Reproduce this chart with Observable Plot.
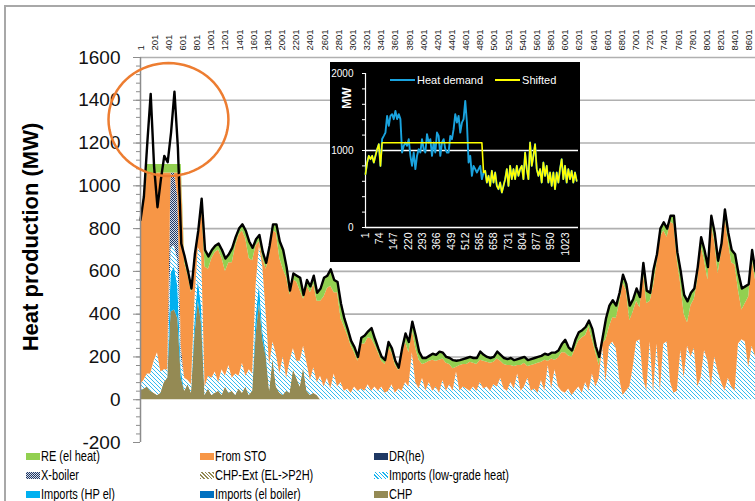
<!DOCTYPE html>
<html>
<head>
<meta charset="utf-8">
<script src="https://cdn.jsdelivr.net/npm/d3@7"></script>
<script src="https://cdn.jsdelivr.net/npm/@observablehq/plot@0.6"></script>
<style>
  body { margin: 0; background: #fff; font-family: "Liberation Sans", Arial, sans-serif; }
  #wrap { position: relative; width: 755px; height: 501px; overflow: hidden; background: #fff; }
  #border { position: absolute; left: 4px; top: 5px; width: 900px; height: 700px;
            border-left: 2px solid #a8a8a8; border-top: 2px solid #a8a8a8; pointer-events: none; }
  #main { position: absolute; left: 0; top: 0; }
  #inset { position: absolute; left: 330px; top: 62px; }
  #ylabel { position: absolute; left: 31px; top: 237px; transform: translate(-50%, -50%) rotate(-90deg);
            font-weight: bold; font-size: 22px; white-space: nowrap; color: #000; }
  #mw { position: absolute; left: 347px; top: 98px; transform: translate(-50%, -50%) rotate(-90deg);
        font-weight: bold; font-size: 12px; color: #fff; }
  #insetLegend { position: absolute; left: 390px; top: 74px; display: flex; align-items: center;
                 color: #fff; font-size: 11px; white-space: nowrap; }
  #insetLegend .ln { display: inline-block; width: 25px; height: 2px; margin-right: 2px; }
  #insetLegend .item { display: flex; align-items: center; margin-right: 12px; }
  .leg { position: absolute; display: flex; align-items: center; white-space: nowrap;
         font-size: 14.5px; color: #000; }
  .leg .sw { display: inline-block; width: 14px; height: 7px; margin-right: 1px; flex: none; }
  .leg .tx { display: inline-block; transform: scaleX(0.76); transform-origin: 0 50%; }
</style>
</head>
<body>
<svg width="0" height="0" style="position:absolute">
  <defs>
    <pattern id="hatchLow" patternUnits="userSpaceOnUse" width="4" height="4">
      <rect width="4" height="4" fill="#ffffff"/>
      <path d="M0,0 L4,4 M-1,3 L1,5 M3,-1 L5,1" stroke="#1CB4EE" stroke-width="0.9"/>
    </pattern>
    <pattern id="checkX" patternUnits="userSpaceOnUse" width="2" height="2">
      <rect width="2" height="2" fill="#d5dbe8"/>
      <rect width="1" height="1" fill="#1F3864"/>
      <rect x="1" y="1" width="1" height="1" fill="#1F3864"/>
    </pattern>
  </defs>
</svg>
<div id="wrap">
  <div id="main"></div>
  <div id="ylabel">Heat production (MW)</div>
  <div id="inset"></div>
  <div id="mw">MW</div>
  <div id="insetLegend"></div>
  <div id="legend"></div>
  <div id="border"></div>
</div>
<script>
// Hourly heat production over the year, sampled every 48 hours (MW)
const stepHours = 48;

const demand = [
  840,950,1200,1430,1090,900,1030,1140,1110,1250,
  1440,1180,730,670,600,520,680,790,940,700,
  670,700,720,730,700,660,680,710,760,800,
  820,790,740,710,750,770,690,640,720,820,
  820,740,700,620,510,590,580,570,490,560,
  530,580,500,520,570,580,610,560,550,450,
  380,330,275,245,200,290,300,320,335,285,
  240,200,185,270,240,182,150,240,310,270,
  365,300,225,195,195,205,215,210,225,220,
  200,195,185,182,185,190,195,200,195,195,
  225,210,200,195,200,225,210,195,190,195,
  185,190,195,200,185,190,195,200,205,215,
  210,220,220,230,260,280,245,230,280,315,
  325,340,370,330,250,200,290,380,440,465,
  440,500,585,540,440,470,520,480,640,510,
  500,610,680,800,830,800,860,860,690,600,
  490,460,500,520,620,760,700,620,860,780,
  650,730,890,780,700,680,590,520,530,540,
  700,600
];

const chp = [
  40,50,60,40,30,20,30,80,100,410,
  420,380,100,40,70,30,300,460,350,20,
  50,20,30,40,20,60,30,40,20,50,
  30,60,20,40,300,450,280,200,40,190,
  60,30,20,40,30,140,100,60,150,40,
  20,30,20,0,0,0,0,0,0,0,
  0,0,0,0,0,0,0,0,0,0,
  0,0,0,0,0,0,0,0,0,0,
  0,0,0,0,0,0,0,0,0,0,
  0,0,0,0,0,0,0,0,0,0,
  0,0,0,0,0,0,0,0,0,0,
  0,0,0,0,0,0,0,0,0,0,
  0,0,0,0,0,0,0,0,0,0,
  0,0,0,0,0,0,0,0,0,0,
  0,0,0,0,0,0,0,0,0,0,
  0,0,0,0,0,0,0,0,0,0,
  0,0,0,0,0,0,0,0,0,0,
  0,0,0,0,0,0,0,0,0,0,
  0,0
];

const importsHP = [
  0,0,0,0,0,0,0,0,0,180,
  200,150,40,0,0,0,60,100,80,0,
  0,0,0,0,0,0,0,0,0,0,
  0,0,0,0,80,90,40,20,0,0,
  0,0,0,0,0,0,0,0,0,0,
  0,0,0,0,0,0,0,0,0,0,
  0,0,0,0,0,0,0,0,0,0,
  0,0,0,0,0,0,0,0,0,0,
  0,0,0,0,0,0,0,0,0,0,
  0,0,0,0,0,0,0,0,0,0,
  0,0,0,0,0,0,0,0,0,0,
  0,0,0,0,0,0,0,0,0,0,
  0,0,0,0,0,0,0,0,0,0,
  0,0,0,0,0,0,0,0,0,0,
  0,0,0,0,0,0,0,0,0,0,
  0,0,0,0,0,0,0,0,0,0,
  0,0,0,0,0,0,0,0,0,0,
  0,0,0,0,0,0,0,0,0,0,
  0,0
];

const importsLow = [
  30,40,60,80,150,200,100,60,40,120,
  100,120,60,60,20,40,100,150,250,40,
  60,80,100,40,120,50,130,60,100,60,
  140,50,120,80,150,180,300,180,120,80,
  150,90,180,60,150,100,80,120,100,130,
  70,120,60,110,60,100,50,120,60,80,
  40,50,30,60,40,50,40,70,40,60,
  40,60,30,40,70,30,50,40,80,60,
  220,80,50,100,40,80,40,60,30,90,
  40,70,40,130,40,60,50,40,60,40,
  80,50,60,40,70,60,100,50,40,80,
  50,120,40,60,100,40,50,30,90,40,
  160,50,140,60,40,30,50,20,40,60,
  30,80,40,120,60,100,250,80,250,270,
  240,100,20,40,60,150,270,280,100,40,
  270,30,260,40,260,270,80,30,40,230,
  100,250,200,240,60,100,230,180,60,200,
  130,80,40,100,60,40,260,280,270,150,
  250,200
];

const xBoiler = [
  0,0,0,0,0,0,0,0,0,350,
  340,300,50,0,0,0,0,0,0,0,
  0,0,0,0,0,0,0,0,0,0,
  0,0,0,0,0,0,0,0,0,0,
  0,0,0,0,0,0,0,0,0,0,
  0,0,0,0,0,0,0,0,0,0,
  0,0,0,0,0,0,0,0,0,0,
  0,0,0,0,0,0,0,0,0,0,
  0,0,0,0,0,0,0,0,0,0,
  0,0,0,0,0,0,0,0,0,0,
  0,0,0,0,0,0,0,0,0,0,
  0,0,0,0,0,0,0,0,0,0,
  0,0,0,0,0,0,0,0,0,0,
  0,0,0,0,0,0,0,0,0,0,
  0,0,0,0,0,0,0,0,0,0,
  0,0,0,0,0,0,0,0,0,0,
  0,0,0,0,0,0,0,0,0,0,
  0,0,0,0,0,0,0,0,0,0,
  0,0
];

const fromSTO = [
  740,830,940,930,870,840,930,920,920,0,
  0,110,810,540,490,430,190,50,230,560,
  500,560,560,620,520,490,480,540,600,660,
  620,640,520,530,190,20,40,210,530,520,
  570,540,410,470,310,320,370,330,220,360,
  410,390,380,350,420,420,480,380,440,300,
  300,250,220,160,140,210,220,220,245,195,
  180,120,135,200,150,132,85,170,190,160,
  105,160,135,65,130,100,145,120,155,100,
  130,95,105,22,120,105,115,135,110,125,
  105,130,115,130,105,130,80,115,120,80,
  105,40,120,110,55,120,115,140,85,145,
  20,140,45,135,180,190,155,180,200,215,
  260,220,300,160,160,60,10,200,90,115,
  140,350,525,470,310,260,190,150,500,410,
  190,500,380,720,530,490,750,790,610,310,
  300,110,240,230,500,620,420,380,760,540,
  460,610,820,640,580,590,250,140,180,330,
  410,360
];

const reHeat = [
  30,30,40,50,50,40,40,40,40,40,
  40,40,40,30,20,20,30,30,30,80,
  60,40,30,30,40,60,40,70,40,30,
  30,40,80,60,30,30,30,30,30,30,
  40,80,90,50,20,30,30,60,20,30,
  30,40,40,60,90,60,80,60,50,70,
  40,30,25,25,20,30,40,30,50,30,
  20,20,20,30,20,20,15,30,40,50,
  40,60,40,30,25,25,30,30,40,30,
  30,30,40,30,25,25,30,25,25,30,
  40,30,25,25,25,35,30,30,30,35,
  30,30,35,30,30,30,30,30,30,30,
  30,30,35,35,40,60,40,30,40,40,
  35,40,30,50,30,40,30,100,100,80,
  60,50,40,30,70,60,60,50,40,60,
  40,80,40,40,40,40,30,40,40,60,
  90,100,60,50,60,40,50,60,40,40,
  60,40,30,40,60,50,80,100,80,60,
  40,40
];

const hourTicks = [1,201,401,601,801,1001,1201,1401,1601,1801,2001,2201,2401,2601,2801,3001,3201,3401,3601,3801,4001,4201,4401,4601,4801,5001,5201,5401,5601,5801,6001,6201,6401,6601,6801,7001,7201,7401,7601,7801,8001,8201,8401,8601];
const mwTicks = [-200,0,200,400,600,800,1000,1200,1400,1600];
const mwMinorTicks = d3.range(-200, 1601, 40);
const gridMW = [200,400,600,800,1000,1200,1400,1600];

// Inset: heat demand vs. shifted demand for the first weeks (MW)
const insetStep = 8.5;
const insetDemand = [
  693,844,931,887,931,844,931,1017,1082,800,
  1150,1190,1233,1450,1320,1450,1472,1407,1515,1407,
  1472,1407,974,1060,1104,1060,1147,931,800,974,
  758,931,1017,974,1147,1017,974,1212,1104,1147,
  931,1104,974,1233,1190,931,1104,1147,1017,974,
  974,1190,1147,1277,1472,1363,1450,1233,1363,1407,
  1645,1363,844,931,671,800,758,714,758,800,
  628,714,736,584,671,541,736,584,714,541,
  498,584,455,541,628,758,541,801,628,758,
  628,801,671,758,801,628,974,758,628,1104,
  801,931,1082,758,671,758,584,844,671,801,
  584,714,541,714,498,714,584,758,887,628,
  801,584,758,628,736,584,714,606
];
const insetShifted = [
  693,844,931,887,931,844,931,1017,1082,800,
  1100,1100,1100,1100,1100,1100,1100,1100,1100,1100,
  1100,1100,1100,1100,1100,1100,1100,1100,1100,1100,
  1100,1100,1100,1100,1100,1100,1100,1100,1100,1100,
  1100,1100,1100,1100,1100,1100,1100,1100,1100,1100,
  1100,1100,1100,1100,1100,1100,1100,1100,1100,1100,
  1100,1100,1100,1100,1100,1100,1100,1100,1100,1100,
  1100,714,736,584,671,541,736,584,714,541,
  498,584,455,541,628,758,541,801,628,758,
  628,801,671,758,801,628,974,758,628,1104,
  801,931,1082,758,671,758,584,844,671,801,
  584,714,541,714,498,714,584,758,887,628,
  801,584,758,628,736,584,714,606
];
const insetTicks = [1,74,147,220,293,366,439,512,585,658,731,804,877,950,1023];
const insetMinorTicks = [0,200,400,600,800,1000,1200,1400,1600,1800,2000];

// Highlighted peak region (ellipse in data units)
const peakCenter = {hour: 396, mw: 1310};
const peakRadius = {hour: 847, mw: 264};

// Series styling
const stackOrder = ["CHP", "Imports (HP el)", "Imports (low-grade heat)", "X-boiler", "From STO", "RE (el heat)"];
const stackFill = ["#948A54", "#00B0F0", "url(#hatchLow)", "url(#checkX)", "#F79646", "#92D050"];
const stackValues = [chp, importsHP, importsLow, xBoiler, fromSTO, reHeat];

const legendItems = [
  ["RE (el heat)", "#92D050"],
  ["From STO", "#F79646"],
  ["DR(he)", "#1F3864"],
  ["X-boiler", "repeating-conic-gradient(#1F3864 0 25%, #d5dbe8 0 50%) 0 0 / 2px 2px"],
  ["CHP-Ext (EL->P2H)", "repeating-linear-gradient(45deg, #948A54 0 1.2px, #fff 1.2px 2.6px)"],
  ["Imports (low-grade heat)", "repeating-linear-gradient(45deg, #1CB4EE 0 1px, #fff 1px 2.6px)"],
  ["Imports (HP el)", "#00B0F0"],
  ["Imports (el boiler)", "#0070C0"],
  ["CHP", "#948A54"]
];

const plain = d => String(d);
const hours = demand.map((_, i) => 1 + i * stepHours);
const stackRows = stackOrder.flatMap((series, s) =>
  stackValues[s].map((value, i) => ({hour: hours[i], value, series})));
const demandRows = demand.map((value, i) => ({hour: hours[i], value}));
const ellipse = d3.range(0, 361, 5).map(a => ({
  hour: peakCenter.hour + peakRadius.hour * Math.cos(a * Math.PI / 180),
  mw: peakCenter.mw + peakRadius.mw * Math.sin(a * Math.PI / 180)
}));

const main = Plot.plot({
  width: 755,
  height: 447,
  marginLeft: 140,
  marginRight: 0,
  marginTop: 57,
  marginBottom: 5,
  style: {background: "transparent", fontFamily: "'Liberation Sans', Arial, sans-serif", overflow: "visible"},
  x: {domain: [1, 8689], axis: null, label: null},
  y: {domain: [-200, 1600], axis: null, label: null},
  color: {type: "ordinal", domain: stackOrder, range: stackFill},
  marks: [
    Plot.ruleY(gridMW, {stroke: "#b0b0b0", strokeWidth: 1.6}),
    Plot.areaY(stackRows, {x: "hour", y: "value", fill: "series", z: "series"}),
    Plot.lineY(demandRows, {x: "hour", y: "value", stroke: "#000", strokeWidth: 2.4, strokeLinejoin: "round"}),
    Plot.ruleX([1], {y1: -200, y2: 1600, stroke: "#8c8c8c", strokeWidth: 1.5}),
    Plot.axisY({ticks: mwMinorTicks, tickSize: 4, stroke: "#8c8c8c", tickFormat: () => "", label: null}),
    Plot.axisY({ticks: mwTicks, tickSize: 7, tickPadding: 13, stroke: "#8c8c8c", fill: "#111", fontSize: 19, tickFormat: plain, label: null}),
    Plot.text(hourTicks, {x: d => d, text: plain, frameAnchor: "top", rotate: -90, textAnchor: "start", lineAnchor: "middle", dy: -7, fontSize: 9.5, fill: "#222"}),
    Plot.line(ellipse, {x: "hour", y: "mw", stroke: "#ED7D31", strokeWidth: 2.5, curve: "linear-closed"})
  ]
});
document.getElementById("main").append(main);

const insetRows = insetDemand.map((v, i) => ({t: 1 + i * insetStep, demand: v, shifted: insetShifted[i]}));
const inset = Plot.plot({
  width: 250,
  height: 200,
  marginLeft: 35,
  marginRight: 2,
  marginTop: 11,
  marginBottom: 35,
  style: {background: "#000", color: "#fff", fontFamily: "'Liberation Sans', Arial, sans-serif"},
  x: {domain: [1, 1090], axis: null, label: null},
  y: {domain: [0, 2000], axis: null, label: null},
  marks: [
    Plot.ruleY([0, 1000], {stroke: "#fff", strokeWidth: 1.3}),
    Plot.ruleX([1], {y1: 0, y2: 2000, stroke: "#fff", strokeWidth: 1.2}),
    Plot.axisY({ticks: insetMinorTicks, tickSize: 3, stroke: "#fff", tickFormat: () => "", label: null}),
    Plot.axisY({ticks: [0, 1000, 2000], tickSize: 3, tickPadding: 9, stroke: "#fff", fill: "#fff", fontSize: 10, tickFormat: plain, label: null}),
    Plot.text(insetTicks, {x: d => d, text: plain, frameAnchor: "bottom", rotate: -90, textAnchor: "end", lineAnchor: "middle", dy: 5, fontSize: 10.5, fill: "#fff"}),
    Plot.lineY(insetRows, {x: "t", y: "demand", stroke: "#1AA3DE", strokeWidth: 1.9}),
    Plot.lineY(insetRows, {x: "t", y: "shifted", stroke: "#FFFF00", strokeWidth: 1.6})
  ]
});
document.getElementById("inset").append(inset);

const il = document.getElementById("insetLegend");
[["Heat demand", "#1AA3DE"], ["Shifted", "#FFFF00"]].forEach(([name, color]) => {
  const item = document.createElement("span");
  item.className = "item";
  item.innerHTML = `<span class="ln" style="background:${color}"></span>${name}`;
  il.append(item);
});

const legend = document.getElementById("legend");
legendItems.forEach(([name, bg], i) => {
  const d = document.createElement("div");
  d.className = "leg";
  d.style.left = (26 + (i % 3) * 174) + "px";
  d.style.top = (448 + Math.floor(i / 3) * 19) + "px";
  d.innerHTML = `<span class="sw" style="background:${bg}"></span>`;
  const t = document.createElement("span");
  t.className = "tx";
  t.textContent = name;
  d.append(t);
  legend.append(d);
});
</script>
</body>
</html>
